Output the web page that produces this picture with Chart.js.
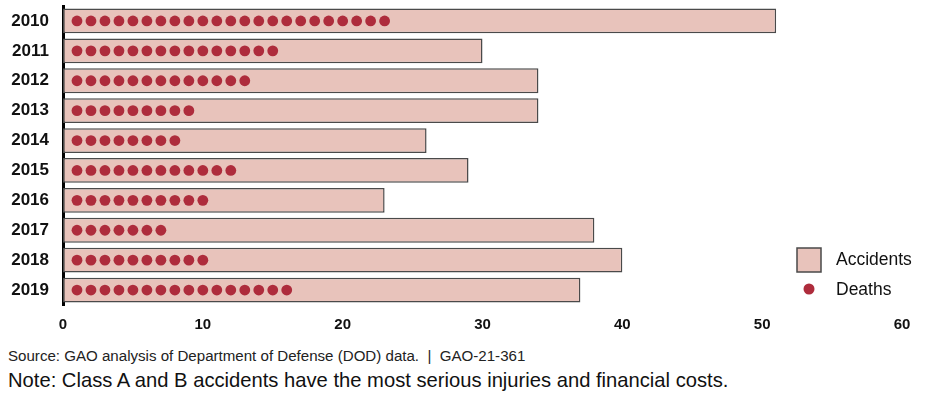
<!DOCTYPE html>
<html>
<head>
<meta charset="utf-8">
<script src="https://cdn.jsdelivr.net/npm/chart.js@4/dist/chart.umd.min.js"></script>
<style>
  html, body { margin: 0; padding: 0; background: #fff; }
  body { width: 945px; height: 399px; position: relative; overflow: hidden; font-family: "Liberation Sans", Arial, sans-serif; }
  #wrap { position: absolute; left: 0; top: 0; width: 945px; height: 340px; }
  #source { position: absolute; left: 8px; top: 347px; font-size: 15.1px; line-height: 18px; color: #222; white-space: nowrap; }
  #note { position: absolute; left: 8px; top: 368px; font-size: 20.2px; line-height: 24px; color: #111; white-space: nowrap; }
</style>
</head>
<body>
<div id="wrap"><canvas id="c"></canvas></div>
<div id="source">Source: GAO analysis of Department of Defense (DOD) data.&nbsp; |&nbsp; GAO-21-361</div>
<div id="note">Note: Class A and B accidents have the most serious injuries and financial costs.</div>
<script>
const years = ['2010','2011','2012','2013','2014','2015','2016','2017','2018','2019'];
const accidents = [51, 30, 34, 34, 26, 29, 23, 38, 40, 37];
const deaths = [23, 15, 13, 9, 8, 12, 10, 7, 10, 16];
const xTicks = [0, 10, 20, 30, 40, 50, 60];

const barFill = '#e8c3bb';
const barBorder = '#4a4a4a';
const dotColor = '#ae2c3c';

// one marker per death, placed at 1..n on the value axis
const deathPoints = [];
years.forEach((y, i) => {
  for (let k = 1; k <= deaths[i]; k++) deathPoints.push({ x: k, y: y });
});

const legendPlugin = {
  id: 'customLegend',
  afterDraw(chart) {
    const ctx = chart.ctx;
    const ds = chart.data.datasets;
    const acc = ds.find(d => d.label === 'Accidents');
    const dth = ds.find(d => d.label === 'Deaths');
    ctx.save();
    ctx.fillStyle = acc.backgroundColor;
    ctx.strokeStyle = acc.borderColor;
    ctx.lineWidth = 1.5;
    ctx.fillRect(797, 248, 24, 24);
    ctx.strokeRect(797, 248, 24, 24);
    ctx.fillStyle = '#111';
    ctx.font = '17.5px "Liberation Sans", Arial, sans-serif';
    ctx.textBaseline = 'middle';
    ctx.textAlign = 'left';
    ctx.fillText(acc.label, 836, 260);
    ctx.beginPath();
    ctx.fillStyle = dth.backgroundColor;
    ctx.arc(809, 289, 5.5, 0, Math.PI * 2);
    ctx.fill();
    ctx.fillStyle = '#111';
    ctx.fillText(dth.label, 836, 290);
    ctx.restore();
  }
};

new Chart(document.getElementById('c'), {
  type: 'bar',
  data: {
    labels: years,
    datasets: [
      {
        type: 'scatter',
        label: 'Deaths',
        data: deathPoints,
        backgroundColor: dotColor,
        borderColor: dotColor,
        pointRadius: 5.4,
        pointBorderWidth: 0,
        order: 0,
        xAxisID: 'x',
        yAxisID: 'y'
      },
      {
        type: 'bar',
        label: 'Accidents',
        data: accidents,
        indexAxis: 'y',
        backgroundColor: barFill,
        borderColor: barBorder,
        borderWidth: 1.5,
        borderSkipped: false,
        barPercentage: 0.83,
        categoryPercentage: 1.0,
        order: 1,
        xAxisID: 'x',
        yAxisID: 'y'
      }
    ]
  },
  options: {
    responsive: true,
    maintainAspectRatio: false,
    animation: false,
    indexAxis: 'y',
    layout: { padding: { top: 6, right: 43, left: 0, bottom: 0 } },
    plugins: { legend: { display: false }, tooltip: { enabled: false } },
    scales: {
      x: {
        type: 'linear',
        position: 'bottom',
        min: 0, max: 60,
        afterBuildTicks(scale) { scale.ticks = xTicks.map(v => ({ value: v })); },
        afterFit(scale) { scale.height = 35; scale.paddingLeft = 0; scale.paddingRight = 0; },
        grid: { display: false, drawTicks: false },
        border: { display: false },
        ticks: { padding: 11, color: '#111', font: { family: '"Liberation Sans", Arial, sans-serif', size: 15, weight: 'bold' } }
      },
      y: {
        type: 'category',
        labels: years,
        position: 'left',
        afterFit(scale) { scale.width = 63; scale.paddingTop = 0; scale.paddingBottom = 0; },
        grid: { display: false, drawTicks: false },
        border: { display: true, color: '#000', width: 3 },
        ticks: { padding: 14, color: '#111', font: { family: '"Liberation Sans", Arial, sans-serif', size: 17, weight: 'bold' } }
      }
    }
  },
  plugins: [legendPlugin]
});
</script>
</body>
</html>
